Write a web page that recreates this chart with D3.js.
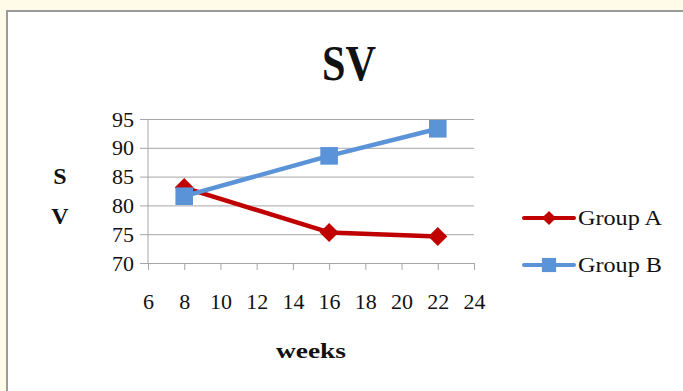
<!DOCTYPE html>
<html>
<head>
<meta charset="utf-8">
<script src="https://cdn.jsdelivr.net/npm/d3@7"></script>
<style>
  html, body { margin: 0; padding: 0; background: #fffbe8; }
  svg { display: block; }
  svg text { font-family: "Liberation Serif", "DejaVu Serif", serif; fill: #111; }
</style>
</head>
<body>
<svg id="chart" width="683" height="391"></svg>
<script>
// Measurement weeks and SV values per group
const weeks = [8, 16, 22];
const groupA = [83.1, 75.3, 74.6];
const groupB = [81.6, 88.6, 93.3];
const xTicks = [6, 8, 10, 12, 14, 16, 18, 20, 22, 24];
const yTicks = [70, 75, 80, 85, 90, 95];
const seriesNames = ["Group A", "Group B"];
const seriesColors = ["#c00000", "#5b93d8"];

const svg = d3.select("#chart");

// Frame of the chart panel
svg.append("rect")
  .attr("x", 7).attr("y", 11)
  .attr("width", 700).attr("height", 400)
  .attr("fill", "#ffffff")
  .attr("stroke", "#9a9a9a")
  .attr("stroke-width", 2);

const x = d3.scaleLinear().domain([6, 24]).range([148, 474]);
const y = d3.scaleLinear().domain([70, 95]).range([263, 119]);

// Horizontal gridlines with tick labels on the left
const yAxis = d3.axisLeft(y).tickValues(yTicks).tickSize(326 + 8).tickPadding(6);
const gy = svg.append("g").attr("transform", "translate(474,0)").call(yAxis)
  .attr("font-family", null).attr("font-size", null);
gy.select(".domain").remove();
gy.selectAll(".tick line").attr("stroke", "#a6a6a6").attr("stroke-width", 1);
gy.selectAll(".tick text").attr("font-size", 22).attr("fill", "#111");

// Vertical axis line
svg.append("line")
  .attr("x1", x(6)).attr("x2", x(6))
  .attr("y1", y(95)).attr("y2", y(70))
  .attr("stroke", "#a6a6a6").attr("stroke-width", 1);

// Bottom axis
const xAxis = d3.axisBottom(x).tickValues(xTicks).tickSize(7).tickSizeOuter(0).tickPadding(23);
const gx = svg.append("g").attr("transform", `translate(0,${y(70)})`).call(xAxis)
  .attr("font-family", null).attr("font-size", null);
gx.select(".domain").attr("stroke", "#a6a6a6");
gx.selectAll(".tick line").attr("stroke", "#a6a6a6");
gx.selectAll(".tick text").attr("font-size", 22).attr("fill", "#111");

// Title and axis titles
svg.append("text")
  .attr("x", 349).attr("y", 80)
  .attr("text-anchor", "middle")
  .attr("font-size", 50).attr("font-weight", "bold")
  .attr("textLength", 54).attr("lengthAdjust", "spacingAndGlyphs")
  .text("SV");

svg.append("text").attr("x", 60).attr("y", 184).attr("text-anchor", "middle")
  .attr("font-size", 24).attr("font-weight", "bold").text("S");
svg.append("text").attr("x", 60).attr("y", 224).attr("text-anchor", "middle")
  .attr("font-size", 24).attr("font-weight", "bold").text("V");

svg.append("text").attr("x", 311).attr("y", 358).attr("text-anchor", "middle")
  .attr("font-size", 22).attr("font-weight", "bold")
  .attr("textLength", 70).attr("lengthAdjust", "spacingAndGlyphs")
  .text("weeks");

// Series lines and markers
const line = d3.line().x(d => x(d[0])).y(d => y(d[1]));
const series = [groupA, groupB].map(vals => weeks.map((w, i) => [w, vals[i]]));

const diamond = d3.symbol().type(d3.symbolSquare).size(180);
const square = d3.symbol().type(d3.symbolSquare).size(310);

series.forEach((pts, si) => {
  svg.append("path").datum(pts)
    .attr("d", line)
    .attr("fill", "none")
    .attr("stroke", seriesColors[si])
    .attr("stroke-width", 4.5)
    .attr("stroke-linejoin", "round");
});

series.forEach((pts, si) => {
  svg.selectAll(null).data(pts).enter().append("path")
    .attr("d", si === 0 ? diamond : square)
    .attr("transform", d => `translate(${x(d[0])},${y(d[1])})` + (si === 0 ? " rotate(45)" : ""))
    .attr("fill", seriesColors[si]);
});

// Legend
const legendY = [218, 265];
seriesNames.forEach((name, si) => {
  const g = svg.append("g").attr("transform", `translate(0,${legendY[si]})`);
  g.append("line").attr("x1", 524).attr("x2", 574).attr("y1", 0).attr("y2", 0)
    .attr("stroke", seriesColors[si]).attr("stroke-width", 4).attr("stroke-linecap", "round");
  g.append("path")
    .attr("d", si === 0 ? d3.symbol().type(d3.symbolSquare).size(100)() : d3.symbol().type(d3.symbolSquare).size(200)())
    .attr("transform", si === 0 ? "translate(549,0) rotate(45)" : "translate(549,0)")
    .attr("fill", seriesColors[si]);
  g.append("text").attr("x", 578).attr("y", 7).attr("font-size", 21)
    .attr("textLength", 84).attr("lengthAdjust", "spacingAndGlyphs")
    .text(name);
});
</script>
</body>
</html>
